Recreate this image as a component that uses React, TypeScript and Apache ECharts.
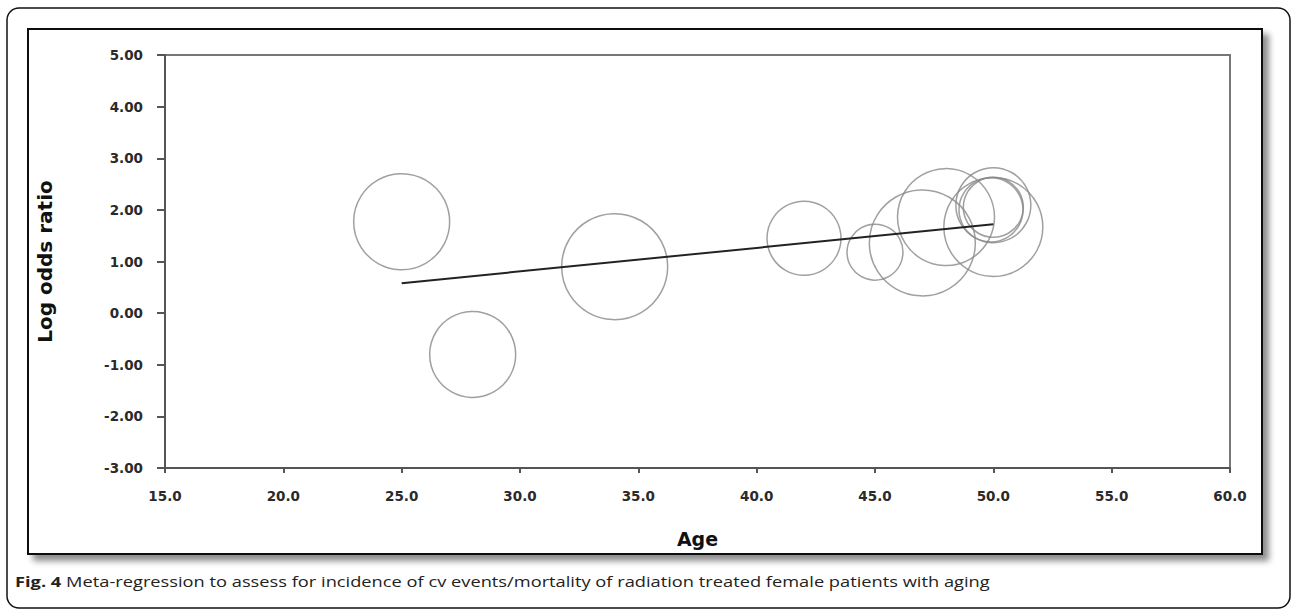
import React, { useEffect, useRef } from "react";
import * as echarts from "echarts";

// Study data (age vs log odds ratio), weights give bubble size
const studyAges = [25, 28, 34, 42, 45, 47, 48, 50, 50, 50, 49.9];
const logOddsRatios = [1.77, -0.8, 0.9, 1.45, 1.18, 1.36, 1.86, 1.67, 2.09, 2.05, 2.0];
const studyWeights = [48, 43, 53, 37, 28, 53, 48.5, 49.5, 37.5, 30, 32];

// Meta-regression line end points
const regressionAges = [25, 50];
const regressionValues = [0.58, 1.72];

const xTicks = { min: 15, max: 60, interval: 5 };
const yTicks = { min: -3, max: 5, interval: 1 };

const xTitle = "Age";
const yTitle = "Log odds ratio";
const captionBold = "Fig. 4";
const captionText =
  " Meta-regression to assess for incidence of cv events/mortality of radiation treated female patients with aging";

export default function App() {
  const ref = useRef<HTMLDivElement>(null);

  useEffect(() => {
    if (!ref.current) return;
    const chart = echarts.init(ref.current, undefined, { renderer: "svg" });
    const bubbles = studyAges.map((a, i) => [a, logOddsRatios[i], studyWeights[i]]);
    const line = regressionAges.map((a, i) => [a, regressionValues[i]]);
    const tickFont = {
      fontFamily: "DejaVu Sans",
      fontWeight: "bold" as const,
      fontSize: 13.5,
      color: "#2a2a2a",
    };
    chart.setOption({
      animation: false,
      backgroundColor: "#fff",
      graphic: [
        {
          type: "rect",
          z: -5,
          shape: { x: 7, y: 8, width: 1283, height: 600, r: 12 },
          style: { fill: "#fff", stroke: "#111", lineWidth: 1.5 },
        },
        {
          type: "rect",
          z: -4,
          shape: { x: 28, y: 29, width: 1234, height: 525 },
          style: {
            fill: "#fff",
            stroke: "#111",
            lineWidth: 2,
            shadowBlur: 6,
            shadowOffsetX: 6,
            shadowOffsetY: 6,
            shadowColor: "rgba(0,0,0,0.45)",
          },
        },
        {
          type: "text",
          z: 5,
          x: 15,
          y: 581,
          scaleX: 1.218,
          style: {
            text: "{b|" + captionBold + "}{n|" + captionText + "}",
            verticalAlign: "middle",
            rich: {
              b: { fontFamily: "Open Sans", fontWeight: "bold", fontSize: 15, fill: "#222" },
              n: { fontFamily: "Open Sans", fontSize: 15, fill: "#222" },
            },
          },
        },
      ],
      grid: {
        left: 165,
        top: 55,
        width: 1065,
        height: 413,
        show: true,
        borderColor: "#777",
        borderWidth: 2,
        backgroundColor: "transparent",
      },
      xAxis: {
        type: "value",
        min: xTicks.min,
        max: xTicks.max,
        interval: xTicks.interval,
        name: xTitle,
        nameLocation: "middle",
        nameGap: 61,
        nameTextStyle: { fontFamily: "DejaVu Sans", fontWeight: "bold", fontSize: 19, color: "#111" },
        axisLine: { show: true, onZero: false, lineStyle: { color: "#555", width: 2 } },
        axisTick: { show: true, length: 5, lineStyle: { color: "#555", width: 2 } },
        axisLabel: { ...tickFont, margin: 21, formatter: (v: number) => v.toFixed(1) },
        splitLine: { show: false },
      },
      yAxis: {
        type: "value",
        min: yTicks.min,
        max: yTicks.max,
        interval: yTicks.interval,
        name: yTitle,
        nameLocation: "middle",
        nameGap: 110,
        nameRotate: 90,
        nameTextStyle: { fontFamily: "DejaVu Sans", fontWeight: "bold", fontSize: 20, color: "#111" },
        axisLine: { show: true, onZero: false, lineStyle: { color: "#555", width: 2 } },
        axisTick: { show: true, length: 8, lineStyle: { color: "#555", width: 2 } },
        axisLabel: { ...tickFont, margin: 22, formatter: (v: number) => v.toFixed(2) },
        splitLine: { show: false },
      },
      series: [
        {
          type: "scatter",
          data: bubbles,
          symbol: "circle",
          symbolSize: (v: number[]) => v[2] * 2,
          itemStyle: { color: "rgba(0,0,0,0)", borderColor: "#888", borderWidth: 1.5 },
          emphasis: { disabled: true },
          z: 3,
        },
        {
          type: "line",
          data: line,
          symbol: "none",
          lineStyle: { color: "#222", width: 2 },
          z: 4,
        },
      ],
    });
    return () => chart.dispose();
  }, []);

  return (
    <div
      ref={ref}
      style={{ position: "absolute", left: 0, top: 0, width: 1292, height: 609 }}
    />
  );
}
